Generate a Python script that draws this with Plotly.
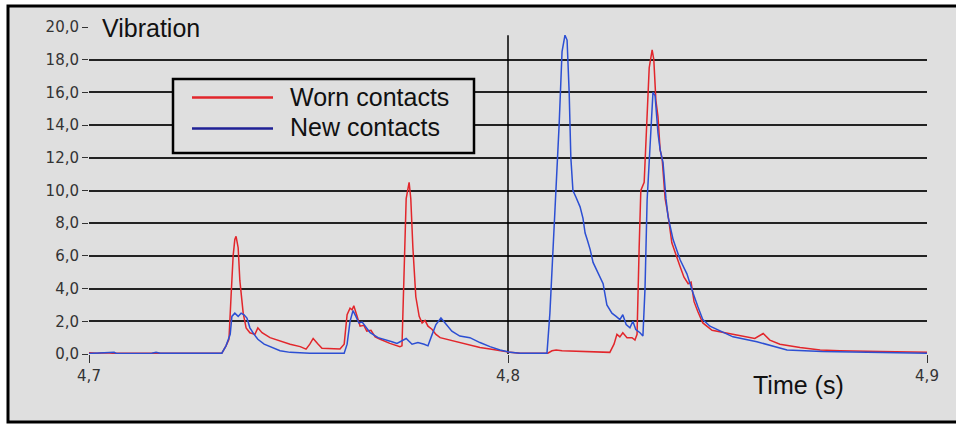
import plotly.graph_objects as go

# ---- data (time in s, vibration amplitude) ----
worn_t = [4.7000, 4.7020, 4.7040, 4.7060, 4.7150, 4.7250, 4.7317, 4.7327, 4.7334, 4.7339,
          4.7344, 4.7348, 4.7351, 4.7356, 4.7360, 4.7368, 4.7375, 4.7384, 4.7396, 4.7403,
          4.7413, 4.7432, 4.7456, 4.7480, 4.7504, 4.7518, 4.7527, 4.7535, 4.7547, 4.7556,
          4.7599, 4.7609, 4.7616, 4.7623, 4.7628, 4.7632, 4.7640, 4.7647, 4.7656, 4.7663,
          4.7673, 4.7683, 4.7695, 4.7718, 4.7742, 4.7747, 4.7752, 4.7757, 4.7764, 4.7768,
          4.7773, 4.7780, 4.7788, 4.7795, 4.7802, 4.7809, 4.7819, 4.7828, 4.7838, 4.7862,
          4.7885, 4.7909, 4.7933, 4.7957, 4.7981, 4.8005, 4.8029, 4.8095, 4.8105, 4.8115,
          4.8129, 4.8172, 4.8220, 4.8243, 4.8253, 4.8260, 4.8267, 4.8274, 4.8284, 4.8296,
          4.8303, 4.8308, 4.8313, 4.8317, 4.8325, 4.8329, 4.8337, 4.8344, 4.8348, 4.8353,
          4.8358, 4.8363, 4.8368, 4.8375, 4.8382, 4.8391, 4.8401, 4.8410, 4.8420, 4.8430,
          4.8437, 4.8444, 4.8453, 4.8465, 4.8487, 4.8530, 4.8566, 4.8589, 4.8609, 4.8625,
          4.8649, 4.8697, 4.8745, 4.8792, 4.8888, 4.9000]
worn_v = [0.08, 0.05, 0.08, 0.04, 0.04, 0.04, 0.05, 0.5, 0.9, 3.5,
          6.0, 7.0, 7.2, 6.5, 4.5, 2.5, 1.6, 1.3, 1.2, 1.6,
          1.3, 1.0, 0.8, 0.6, 0.45, 0.3, 0.6, 0.95, 0.6, 0.35,
          0.3, 0.6, 2.4, 2.8, 2.7, 2.95, 2.3, 1.7, 1.75, 1.4,
          1.45, 1.05, 0.9, 0.65, 0.45, 0.5, 5.0, 9.5, 10.5, 9.5,
          6.5, 3.5, 2.3, 1.9, 2.05, 1.7, 1.5, 1.2, 1.0, 0.85,
          0.7, 0.55, 0.4, 0.3, 0.2, 0.1, 0.05, 0.05, 0.2, 0.25,
          0.2, 0.15, 0.1, 0.1, 0.6, 1.2, 1.05, 1.3, 1.0, 1.0,
          0.85, 1.2, 6.5, 10.0, 10.5, 13.0, 17.5, 18.6, 18.0, 15.5,
          14.5, 12.5, 11.9, 9.5, 8.5, 6.8, 6.0, 5.4, 4.7, 4.3,
          4.4, 3.2, 2.6, 1.9, 1.45, 1.25, 1.1, 0.95, 1.25, 0.85,
          0.6, 0.4, 0.25, 0.2, 0.15, 0.1]

new_t = [4.7000, 4.7030, 4.7060, 4.7065, 4.7150, 4.7160, 4.7170, 4.7317, 4.7327, 4.7337,
         4.7341, 4.7348, 4.7356, 4.7363, 4.7370, 4.7377, 4.7384, 4.7394, 4.7403, 4.7418,
         4.7432, 4.7456, 4.7480, 4.7527, 4.7609, 4.7616, 4.7623, 4.7630, 4.7637, 4.7644,
         4.7652, 4.7659, 4.7671, 4.7690, 4.7706, 4.7723, 4.7735, 4.7747, 4.7757, 4.7771,
         4.7785, 4.7800, 4.7809, 4.7819, 4.7828, 4.7840, 4.7852, 4.7866, 4.7885, 4.7909,
         4.7933, 4.7957, 4.7981, 4.8005, 4.8029, 4.8093, 4.8100, 4.8107, 4.8115, 4.8122,
         4.8129, 4.8136, 4.8141, 4.8146, 4.8150, 4.8155, 4.8162, 4.8172, 4.8179, 4.8184,
         4.8189, 4.8196, 4.8203, 4.8215, 4.8227, 4.8236, 4.8248, 4.8258, 4.8267, 4.8274,
         4.8282, 4.8291, 4.8298, 4.8305, 4.8315, 4.8322, 4.8327, 4.8332, 4.8339, 4.8346,
         4.8351, 4.8358, 4.8363, 4.8370, 4.8377, 4.8382, 4.8394, 4.8401, 4.8411, 4.8427,
         4.8434, 4.8442, 4.8453, 4.8465, 4.8482, 4.8499, 4.8537, 4.8594, 4.8666, 4.8750,
         4.8850, 4.9000]
new_v = [0.03, 0.05, 0.1, 0.03, 0.05, 0.1, 0.04, 0.05, 0.5, 1.2,
         2.3, 2.5, 2.3, 2.5, 2.4, 2.2, 1.6, 1.2, 0.9, 0.6,
         0.45, 0.2, 0.1, 0.05, 0.05, 0.6, 2.0, 2.65, 2.3, 1.9,
         1.95, 1.7, 1.3, 1.0, 0.9, 0.75, 0.65, 0.8, 0.95, 0.6,
         0.7, 0.6, 0.5, 1.2, 1.8, 2.2, 1.8, 1.4, 1.1, 1.0,
         0.7, 0.45, 0.25, 0.1, 0.05, 0.05, 2.5, 6.0, 10.0, 14.0,
         18.5, 19.5, 19.2, 16.0, 12.0, 10.0, 9.6, 9.0, 8.3, 7.4,
         7.0, 6.4, 5.6, 5.0, 4.3, 3.0, 2.5, 2.3, 2.1, 2.4,
         1.8, 1.6, 2.0, 1.5, 1.3, 1.1, 4.0, 9.4, 12.5, 16.0,
         15.8, 13.5, 12.5, 11.7, 9.5, 8.4, 7.0, 6.5, 5.75, 4.9,
         4.4, 3.7, 2.9, 2.1, 1.7, 1.5, 1.05, 0.75, 0.25, 0.15,
         0.1, 0.05]

series_names = ["Worn contacts", "New contacts"]
y_tick_vals = [0, 2, 4, 6, 8, 10, 12, 14, 16, 18, 20]
y_tick_text = ["0,0", "2,0", "4,0", "6,0", "8,0", "10,0", "12,0", "14,0", "16,0", "18,0", "20,0"]
grid_vals = [2, 4, 6, 8, 10, 12, 14, 16, 18]
x_tick_vals = [4.7, 4.8, 4.9]
x_tick_text = ["4,7", "4,8", "4,9"]
marker_time = 4.8
marker_top = 19.5

RED = "#e2262b"
BLUE = "#2c4fd3"
LEG_BLUE = "#1f2196"
BG = "#dfdfdf"
TXT_FONT = "Liberation Sans, Arial, sans-serif"
TICK_FONT = "DejaVu Sans, Verdana, sans-serif"

fig = go.Figure()
fig.add_trace(go.Scatter(x=worn_t, y=worn_v, mode="lines", name=series_names[0],
                         line=dict(color=RED, width=1.5), showlegend=False))
fig.add_trace(go.Scatter(x=new_t, y=new_v, mode="lines", name=series_names[1], yaxis="y2",
                         line=dict(color=BLUE, width=1.5), showlegend=False))

# layout geometry helpers (paper coordinates)
L, R, T, B = 89, 29, 27, 72
W, H = 956, 426
pw, ph = W - L - R, H - T - B


def px(xpix):
    return (xpix - L) / pw


def py(ypix):
    return (H - B - ypix) / ph


shapes = [
    # outer frame
    dict(type="rect", xref="paper", yref="paper", x0=px(8), x1=px(975), y0=py(6), y1=py(422),
         fillcolor=BG, line=dict(color="black", width=3), layer="below"),
    # vertical marker line
    dict(type="line", xref="x", yref="y", x0=marker_time, x1=marker_time, y0=0, y1=marker_top,
         line=dict(color="black", width=1.5), layer="between"),
    # legend box
    dict(type="rect", xref="paper", yref="paper", x0=px(173), x1=px(474), y0=py(79), y1=py(153),
         fillcolor=BG, line=dict(color="black", width=2.5), layer="above"),
    dict(type="line", xref="paper", yref="paper", x0=px(192), x1=px(273), y0=py(97.5), y1=py(97.5),
         line=dict(color=RED, width=2.5), layer="above"),
    dict(type="line", xref="paper", yref="paper", x0=px(192), x1=px(273), y0=py(128.5), y1=py(128.5),
         line=dict(color=LEG_BLUE, width=2.5), layer="above"),
]

annotations = [
    dict(text="Vibration", xref="paper", yref="paper", x=px(100), y=py(28), xanchor="left",
         yanchor="middle", showarrow=False, font=dict(family=TXT_FONT, size=25, color="#111")),
    dict(text="Time (s)", xref="paper", yref="paper", x=px(751), y=py(385), xanchor="left",
         yanchor="middle", showarrow=False, font=dict(family=TXT_FONT, size=25, color="#111")),
    dict(text=series_names[0], xref="paper", yref="paper", x=px(288), y=py(97), xanchor="left",
         yanchor="middle", showarrow=False, font=dict(family=TXT_FONT, size=25, color="#111")),
    dict(text=series_names[1], xref="paper", yref="paper", x=px(288), y=py(127), xanchor="left",
         yanchor="middle", showarrow=False, font=dict(family=TXT_FONT, size=25, color="#111")),
]

fig.update_layout(
    width=W, height=H,
    margin=dict(l=L, r=R, t=T, b=B, pad=0),
    paper_bgcolor="white",
    plot_bgcolor="rgba(0,0,0,0)",
    showlegend=False,
    shapes=shapes,
    annotations=annotations,
    xaxis=dict(range=[4.7, 4.9], tickvals=x_tick_vals, ticktext=x_tick_text,
               showgrid=False, zeroline=False, showline=False,
               ticks="outside", ticklen=8, tickwidth=1, tickcolor="#333",
               tickfont=dict(family=TICK_FONT, size=15, color="#333")),
    yaxis=dict(range=[0, 20], tickvals=y_tick_vals, ticktext=y_tick_text,
               showgrid=False, zeroline=False, showline=False,
               ticks="outside", ticklen=6, tickwidth=1, tickcolor="#333",
               tickfont=dict(family=TICK_FONT, size=15, color="#333")),
    yaxis2=dict(range=[0, 20], overlaying="y", side="left", tickvals=grid_vals,
                showticklabels=False, ticks="", showgrid=True, gridcolor="#222",
                gridwidth=1.6, zeroline=False, showline=False),
)

fig.write_html("out.html")
